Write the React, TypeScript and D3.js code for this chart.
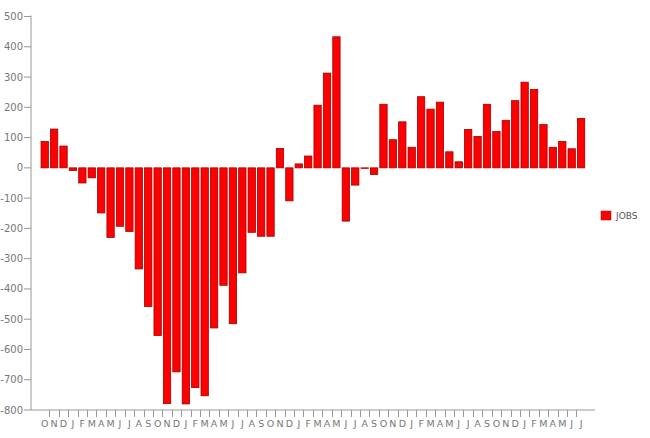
import React from "react";
import * as d3 from "d3";

const months = ["O","N","D","J","F","M","A","M","J","J","A","S","O","N","D","J","F","M","A","M","J","J","A","S","O","N","D","J","F","M","A","M","J","J","A","S","O","N","D","J","F","M","A","M","J","J","A","S","O","N","D","J","F","M","A","M","J","J"];
const jobs = [87,128,72,-9,-50,-33,-149,-230,-193,-210,-334,-458,-554,-779,-674,-780,-726,-753,-529,-388,-515,-347,-213,-226,-226,64,-109,13,39,207,313,433,-176,-57,-1,-22,210,93,152,68,235,194,217,53,20,127,104,210,120,157,222,283,259,143,68,87,63,163];
const yTicks = [500,400,300,200,100,0,-100,-200,-300,-400,-500,-600,-700,-800];
const seriesName = "JOBS";

export default function App() {
  const W = 650, H = 438;
  const left = 31, top = 16.5, bottom = 410, right = 595;
  const y = d3.scaleLinear().domain([-800, 500]).range([bottom, top]);
  const idx = jobs.map((_, i) => i);
  const x = d3.scaleBand<number>().domain(idx).range([40, 585.8]).paddingInner(0.22).paddingOuter(0.11);
  const step = x.step();
  const bw = x.bandwidth();
  const font = "'DejaVu Sans', Verdana, sans-serif";
  return (
    <svg width={W} height={H} style={{ position: "absolute", left: 0, top: 0, background: "#fff" }}>
      {/* y axis */}
      <line x1={left} x2={left} y1={top - 1} y2={bottom} stroke="#999" strokeWidth={1} />
      {yTicks.map((t) => (
        <g key={t}>
          <line x1={left - 7} x2={left} y1={y(t)} y2={y(t)} stroke="#999" />
          <text x={left - 8} y={y(t)} dy="0.35em" textAnchor="end" fontSize={10} fill="#777" fontFamily={font}>{t}</text>
        </g>
      ))}
      {/* x axis */}
      <line x1={left} x2={right} y1={bottom} y2={bottom} stroke="#999" />
      {idx.slice(1).map((i) => {
        const tx = Math.round((x(i) as number) - (step - bw) / 2) + 0.5;
        return <line key={"t" + i} x1={tx} x2={tx} y1={bottom} y2={bottom + 7} stroke="#999" />;
      })}
      {months.map((m, i) => (
        <text key={"m" + i} x={(x(i) as number) + bw / 2} y={bottom + 17} textAnchor="middle" fontSize={9.5} fill="#777" fontFamily={font}>{m}</text>
      ))}
      {/* bars */}
      {jobs.map((v, i) => (
        <rect key={"b" + i} x={x(i)} y={y(Math.max(0, v))} width={bw} height={Math.max(0.5, Math.abs(y(v) - y(0)))}
          fill="#ff0000" stroke="#a00000" strokeWidth={0.8} />
      ))}
      {/* legend */}
      <rect x={601} y={211} width={10} height={9} fill="#ff0000" stroke="#c00000" strokeWidth={0.5} />
      <text x={616} y={215.5} dy="0.35em" fontSize={9} fill="#555" fontFamily={font}>{seriesName}</text>
    </svg>
  );
}
